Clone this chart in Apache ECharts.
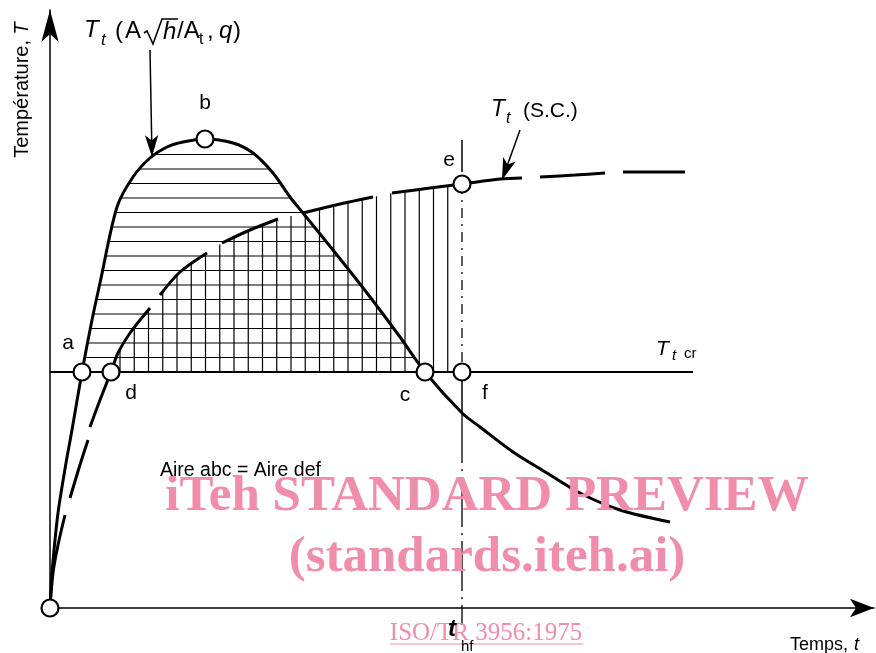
<!DOCTYPE html>
<html><head><meta charset="utf-8">
<script src="https://cdn.jsdelivr.net/npm/echarts@6/dist/echarts.min.js"></script>
<style>html,body{margin:0;padding:0;background:#fff}#c{width:876px;height:653px}</style>
</head><body><div id="c"></div>
<script>
// Temperature curve Tt(A√h/At, q) (solid), in diagram units
const solidCurve = [[0,0],[2,35],[8,95],[16,145],[22,178],[32,236],[42,288],[50,325],[67,401],[83,431],[100,450],[117,461],[133,466],[155,469],[183,465],[203,455],[223,435],[240,411],[253,395],[283,358],[317,315],[350,271],[375,236],[412,195],[430,181],[463,156],[497,135],[530,115],[570,98],[620,86]];
// Standard curve Tt (S.C.) (long dashes; null = gap)
const dashedCurve = [[0,0],[3,35],[8,63],[15,93],null,[20,110],[29,140],[38,168],null,[40,181],[50,208],[61,236],[68,255],[80,275],[100,300],null,[110,313],[130,336],[157,355],null,[172,365],[200,378],[228,389],null,[253,395],[290,404],[323,411],null,[342,415],[380,420],[412,424],[450,429],[472,430],null,[490,431],[525,433],[555,435],null,[573,436],[605,436],[635,436]];
const tCritical = 236;
const tCriticalEnd = 643;
const tHf = 412;
const pointNames = ['O','a','b','c','d','e','f'];
const pointValues = [[0,0],[32,236],[155,469],[375,236],[61,236],[412,424],[412,236]];

const labelOffsets = {O:null,a:[-14,-29],b:[0,-36],c:[-20,23],d:[20,21],e:[-13,-24],f:[23,21]};
const HATCH_H = 14.5, HATCH_V = 14.25;
const SANS = 'Liberation Sans', SERIF = 'Liberation Serif';
const PINK = '#ef8dab';

function hatchRender(params, api) {
  const kids = [];
  const ln = (x1,y1,x2,y2) => ({type:'line', shape:{x1,y1,x2,y2}, style:{stroke:'#000', lineWidth:1.2}});
  const sp = solidCurve.map(p => api.coord(p));
  const yCr = api.coord([0, tCritical])[1];
  const top = Math.min.apply(null, sp.map(p => p[1]));
  for (let yy = yCr - HATCH_H; yy > top + 6; yy -= HATCH_H) {
    const xs = [];
    for (let i = 0; i < sp.length - 1; i++) {
      const p0 = sp[i], p1 = sp[i+1];
      if ((p0[1]-yy)*(p1[1]-yy) <= 0 && p0[1] !== p1[1]) xs.push(p0[0] + (yy-p0[1])/(p1[1]-p0[1])*(p1[0]-p0[0]));
    }
    if (xs.length >= 2) kids.push(ln(Math.min.apply(null,xs), yy, Math.max.apply(null,xs), yy));
  }
  const dp = dashedCurve.filter(p => p).map(p => api.coord(p));
  const xD = api.coord(pointValues[4])[0];
  const xE = api.coord([tHf, 0])[0];
  for (let xx = xE - HATCH_V; xx > xD + 5; xx -= HATCH_V) {
    for (let i = 0; i < dp.length - 1; i++) {
      const p0 = dp[i], p1 = dp[i+1];
      if (p0[0] <= xx && p1[0] >= xx && p1[0] > p0[0]) {
        const y = p0[1] + (xx-p0[0])/(p1[0]-p0[0])*(p1[1]-p0[1]);
        kids.push(ln(xx, yCr, xx, y));
        break;
      }
    }
  }
  return {type:'group', children:kids};
}

function txt(x, y, text, size, o) {
  o = o || {};
  return {type:'text', x, y, z: o.z || 10, rotation: o.rotation || 0, silent:true,
    style:{text, fill:o.color||'#000', font:(o.style||'normal')+' '+(o.weight||'normal')+' '+size+'px "'+(o.family||SANS)+'"',
      textAlign:o.align||'left', textVerticalAlign:'middle', rich:o.rich}};
}

const graphics = [
  // watermark
  txt(487, 497, 'iTeh STANDARD PREVIEW', 51, {family:SERIF, weight:'bold', color:PINK, align:'center', z:0}),
  txt(487, 558, '(standards.iteh.ai)', 51, {family:SERIF, weight:'bold', color:PINK, align:'center', z:0}),
  txt(486, 633, 'ISO/TR 3956:1975', 25, {family:SERIF, color:PINK, align:'center', z:0}),
  {type:'line', z:0, silent:true, shape:{x1:390,y1:644,x2:583,y2:644}, style:{stroke:PINK, lineWidth:1.2}},
  // Tt(A√h/At, q)
  txt(84, 30, 'T', 24, {style:'italic'}),
  txt(101, 40, 't', 17, {style:'italic'}),
  txt(115, 31, '(', 24),
  txt(125, 31, 'A', 24),
  {type:'polyline', z:10, silent:true, shape:{points:[[144,33],[147,31],[153,44],[162,19],[178,19]]}, style:{stroke:'#000', fill:null, lineWidth:1.6}},
  txt(163, 32, 'h', 24, {style:'italic'}),
  txt(177, 31, '/A', 24),
  txt(199, 40, 't', 16),
  txt(207, 31, ',', 24),
  txt(219, 31, 'q', 24, {style:'italic'}),
  txt(233, 31, ')', 24),
  // Tt (S.C.)
  txt(491, 110, 'T', 23, {style:'italic'}),
  txt(506, 119, 't', 16, {style:'italic'}),
  txt(523, 111, '(S.C.)', 21),
  // Tt cr
  txt(656, 349, 'T', 21, {style:'italic'}),
  txt(672, 356, 't', 15, {style:'italic'}),
  txt(684, 354, 'cr', 15),
  // t_hf
  txt(448, 629, 't', 24, {style:'italic', weight:'bold'}),
  txt(461, 647, 'hf', 15),
  // axis titles
  txt(790, 645, 'Temps, ', 18),
  txt(854, 645, 't', 18, {style:'italic'}),
  {type:'text', x:22, y:90, rotation:Math.PI/2, z:10, silent:true,
    style:{text:'Température, {i|T}', font:'20px "'+SANS+'"', fill:'#000', textAlign:'center', textVerticalAlign:'middle',
      rich:{i:{fontStyle:'italic', fontSize:20, fontFamily:SANS}}}},
  // Aire
  txt(160, 471, 'Aire abc = Aire def', 19.5)
];

const chart = echarts.init(document.getElementById('c'), null, {renderer:'canvas'});
chart.setOption({
  animation:false,
  backgroundColor:'#fff',
  grid:{left:50, right:2, top:10, bottom:45},
  xAxis:{type:'value', min:0, max:824, axisLabel:{show:false}, axisTick:{show:false}, splitLine:{show:false},
    axisLine:{show:true, symbol:['none','arrow'], symbolSize:[14,24], lineStyle:{color:'#000', width:1.5}}},
  yAxis:{type:'value', min:0, max:598, axisLabel:{show:false}, axisTick:{show:false}, splitLine:{show:false},
    axisLine:{show:true, symbol:['none','arrow'], symbolSize:[13,32], lineStyle:{color:'#000', width:1.5}}},
  graphic:{elements:graphics},
  series:[
    {type:'custom', coordinateSystem:'cartesian2d', data:[[0,0]], renderItem:hatchRender, silent:true, z:1, clip:false},
    {type:'line', data:[[0,tCritical],[tCriticalEnd,tCritical]], symbol:'none', lineStyle:{color:'#000', width:2}, z:2, silent:true},
    {type:'line', data:[[tHf,468],[tHf,436]], symbol:'none', lineStyle:{color:'#000', width:1.5}, z:2, silent:true},
    {type:'line', data:[[tHf,424],[tHf,236]], symbol:'none', lineStyle:{color:'#000', width:1.3, type:[10,6,2,6]}, z:2, silent:true},
    {type:'line', data:[[tHf,236],[tHf,195]], symbol:'none', lineStyle:{color:'#000', width:1.5}, z:2, silent:true},
    {type:'line', data:[[tHf,195],[tHf,-17]], symbol:'none', clip:false, lineStyle:{color:'#000', width:1.3, type:[50,6,2,6]}, z:2, silent:true},
    {type:'line', data:solidCurve, symbol:'none', smooth:0.3, lineStyle:{color:'#000', width:3}, z:3, silent:true,
      markLine:{silent:true, symbol:['none','arrow'], symbolSize:[10,22], label:{show:false},
        lineStyle:{color:'#000', width:1.5, type:'solid'},
        data:[[{coord:[100,558]},{coord:[102,451]}],[{coord:[470,478]},{coord:[452,428]}]]}},
    {type:'line', data:dashedCurve, symbol:'none', smooth:0.3, connectNulls:false, lineStyle:{color:'#000', width:3}, z:3, silent:true},
    {type:'scatter', data:pointNames.map((n,i)=>({name:n, value:pointValues[i],
        label:{show:!!labelOffsets[n], formatter:n, position:'inside', offset:labelOffsets[n]||[0,0], color:'#000', fontSize:21, fontFamily:SANS}})),
      symbol:'circle', symbolSize:17, itemStyle:{color:'#fff', borderColor:'#000', borderWidth:2.2, opacity:1}, z:5, silent:true, clip:false}
  ]
});
</script></body></html>
